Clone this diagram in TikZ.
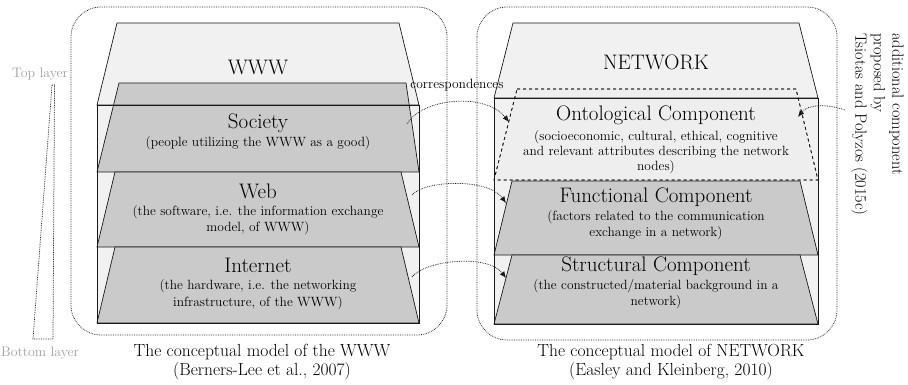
\documentclass[tikz,border=0pt]{standalone}
\usepackage{fontspec}
\usetikzlibrary{arrows.meta}
\definecolor{boxfill}{RGB}{241,241,241}
\definecolor{layerfill}{RGB}{202,202,202}
\definecolor{ontofill}{RGB}{238,238,238}
\definecolor{graytext}{RGB}{160,160,160}
\tikzset{
  frame/.style={draw=black!90, densely dotted, line width=0.75pt, rounded corners=30pt},
  prism/.style={draw=black!90, line width=0.7pt},
  layer/.style={draw=black!90, fill=layerfill, line width=0.7pt},
  onto/.style={draw=black!90, fill=ontofill, dashed, line width=0.7pt},
  ttl/.style={font=\fontsize{21}{23}\selectfont, inner sep=0pt},
  sub/.style={font=\fontsize{13.4}{16.5}\selectfont, align=center, inner sep=0pt},
  captext/.style={font=\fontsize{17.5}{18.5}\selectfont, align=center, inner sep=0pt},
  corr/.style={densely dotted, line width=0.75pt, draw=black!90, -{Latex[length=6.5pt,width=5.5pt]}},
}
\begin{document}
\begin{tikzpicture}[x=1pt,y=-1pt]
\useasboundingbox (0,0) rectangle (908,385);
% frames
\draw[frame] (71,7) rectangle (447,335);
\draw[frame] (477,7) rectangle (837,340);
% left prism
\fill[boxfill] (117,23) -- (399,23) -- (419,105) -- (419,323) -- (97,323) -- (97,105) -- cycle;
\draw[layer] (119,83) -- (406,83) -- (419,172) -- (97,172) -- cycle;
\draw[layer] (115,172) -- (401,172) -- (419,247) -- (97,247) -- cycle;
\draw[layer] (115,247) -- (401,247) -- (419,323) -- (97,323) -- cycle;
\draw[prism] (97,105) -- (117,23) -- (399,23) -- (419,105) -- cycle;
\draw[prism] (97,105) rectangle (419,323);
% right prism
\fill[boxfill] (513,23) -- (799,23) -- (818,98) -- (818,324) -- (494,324) -- (494,98) -- cycle;
\draw[onto] (517,89) -- (796,89) -- (818,180) -- (494,180) -- cycle;
\draw[layer] (512,181) -- (800,181) -- (818,255) -- (494,255) -- cycle;
\draw[layer] (512,255) -- (800,255) -- (818,324) -- (494,324) -- cycle;
\draw[prism] (494,98) -- (513,23) -- (799,23) -- (818,98) -- cycle;
\draw[prism] (494,98) rectangle (818,324);
\draw[onto, fill=none] (517,89) -- (796,89) -- (818,180) -- (494,180) -- cycle;
% left texts
\node[ttl] (www) at (258,67) {WWW};
\node[ttl] (soc) at (258,123) {Society};
\node[sub] (socd) at (258,143) {(people utilizing the WWW as a good)};
\node[ttl] (web) at (258,191) {Web};
\node[sub] (webd) at (258,220) {(the software, i.e. the information exchange\\model, of WWW)};
\node[ttl] (inet) at (258,265) {Internet};
\node[sub] (inetd) at (258,294.5) {(the hardware, i.e. the networking\\infrastructure, of the WWW)};
\node[captext] (capl) at (262,362) {The conceptual model of the WWW\\(Berners-Lee et al., 2007)};
% right texts
\node[ttl] (net) at (656,62) {NETWORK};
\node[ttl] (ont) at (656,115) {Ontological Component};
\node[sub, font=\fontsize{13.4}{15.2}\selectfont] (ontd) at (656,152) {(socioeconomic, cultural, ethical, cognitive\\and relevant attributes describing the network\\nodes)};
\node[ttl] (fun) at (656,197) {Functional Component};
\node[sub] (fund) at (656,225) {(factors related to the communication\\exchange in a network)};
\node[ttl] (str) at (656,266) {Structural Component};
\node[sub] (strd) at (656,294) {(the constructed/material background in a\\network)};
\node[captext] (capr) at (671,362) {The conceptual model of NETWORK\\(Easley and Kleinberg, 2010)};
% side labels
\node[font=\fontsize{13.8}{15}\selectfont, text=graytext, inner sep=0pt] (top) at (40,74) {Top layer};
\node[font=\fontsize{13.8}{15}\selectfont, text=graytext, inner sep=0pt] (bot) at (40,353) {Bottom layer};
\draw[densely dotted, line width=0.75pt, draw=black!90] (52,85) -- (54.5,85) -- (53,339) -- (33,339) -- cycle;
\node[font=\fontsize{13.5}{15}\selectfont, inner sep=0pt] (corrt) at (457,85) {correspondences};
\node[font=\fontsize{16.3}{18.5}\selectfont, align=left, rotate=-90, anchor=north west, inner sep=0pt] (add) at (904,33) {additional component\\proposed by\\Tsiotas and Polyzos (2015c)};
% connectors
\coordinate (a1) at (407,124);
\coordinate (b1) at (509,122);
\coordinate (a2) at (412,195);
\coordinate (b2) at (506,203);
\coordinate (a3) at (412,277);
\coordinate (b3) at (506,278);
\coordinate (a4) at (845,110);
\coordinate (b4) at (798,117);
\draw[corr] (a1) .. controls (422,98) and (485,92) .. (b1);
\draw[corr] (a2) .. controls (425,180) and (488,178) .. (b2);
\draw[corr] (a3) .. controls (425,260) and (488,254) .. (b3);
\draw[corr] (a4) .. controls (828,104) and (808,104) .. (b4);
\end{tikzpicture}
\end{document}
